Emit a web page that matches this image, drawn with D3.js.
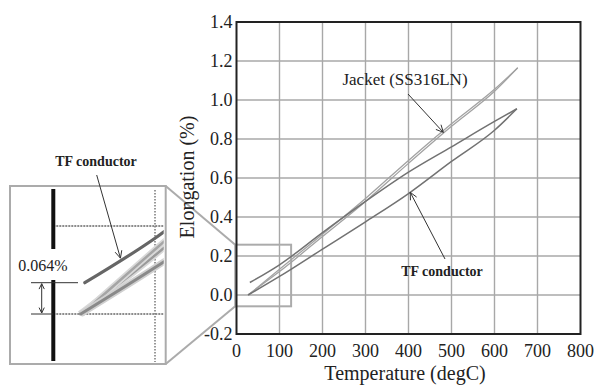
<!DOCTYPE html>
<html>
<head>
<meta charset="utf-8">
<script src="https://cdn.jsdelivr.net/npm/d3@7"></script>
<style>
  body { margin: 0; background: #fff; }
</style>
</head>
<body>
<svg id="chart" width="596" height="386"></svg>
<script>
// temperature (degC) and elongation (%)
const jacketHeatT = [26, 100, 200, 300, 400, 500, 600, 654];
const jacketHeatE = [0.0, 0.12, 0.30, 0.48, 0.675, 0.865, 1.045, 1.165];
const jacketCoolT = [654, 600, 500, 400, 300, 200, 100, 28];
const jacketCoolE = [1.165, 1.055, 0.878, 0.69, 0.495, 0.312, 0.132, 0.0];
const tfHeatT = [27, 100, 200, 300, 400, 500, 600, 652];
const tfHeatE = [0.0, 0.095, 0.235, 0.375, 0.52, 0.685, 0.845, 0.955];
const tfCoolT = [652, 600, 500, 400, 300, 200, 100, 31];
const tfCoolE = [0.955, 0.89, 0.76, 0.63, 0.48, 0.32, 0.155, 0.064];

const xTicks = [0, 100, 200, 300, 400, 500, 600, 700, 800];
const yTicks = [-0.2, 0.0, 0.2, 0.4, 0.6, 0.8, 1.0, 1.2, 1.4];
const offsetLabel = '0.064%';
const offsetValue = 0.064;

const serif = '"Liberation Serif", "DejaVu Serif", "Times New Roman", serif';
const svg = d3.select('#chart')
  .attr('font-family', serif)
  .style('font-family', serif);
const x = d3.scaleLinear().domain([0, 800]).range([236.5, 580.5]);
const y = d3.scaleLinear().domain([-0.2, 1.4]).range([334, 22]);

const toPts = (ts, es) => ts.map((t, i) => [t, es[i]]);
const series = [
  { pts: toPts(jacketHeatT, jacketHeatE), color: '#a2a2a2', w: 1.3 },
  { pts: toPts(jacketCoolT, jacketCoolE), color: '#a2a2a2', w: 1.3 },
  { pts: toPts(tfHeatT, tfHeatE), color: '#727272', w: 1.5 },
  { pts: toPts(tfCoolT, tfCoolE), color: '#727272', w: 1.5 }
];

// value of a series at temperature t (for arrow tips)
const valueAt = (pts, t) => {
  const s = pts.slice().sort((a, b) => a[0] - b[0]);
  for (let i = 1; i < s.length; i++) {
    if (t <= s[i][0]) {
      const f = (t - s[i - 1][0]) / (s[i][0] - s[i - 1][0]);
      return s[i - 1][1] + f * (s[i][1] - s[i - 1][1]);
    }
  }
  return s[s.length - 1][1];
};

const arrow = (g, x1, y1, x2, y2, head, both) => {
  g.append('line')
    .attr('x1', x1).attr('y1', y1).attr('x2', x2).attr('y2', y2)
    .attr('stroke', '#333').attr('stroke-width', 1);
  const tips = both ? [[x2, y2, x1, y1], [x1, y1, x2, y2]] : [[x2, y2, x1, y1]];
  tips.forEach(([tx, ty, fx, fy]) => {
    const a = Math.atan2(ty - fy, tx - fx);
    const p = s => [tx - head * Math.cos(a + s), ty - head * Math.sin(a + s)];
    const [l, r] = [p(0.45), p(-0.45)];
    g.append('path')
      .attr('d', `M${l[0]},${l[1]} L${tx},${ty} L${r[0]},${r[1]}`)
      .attr('fill', 'none').attr('stroke', '#333').attr('stroke-width', 1);
  });
};

const label = (g, tx, ty, str, size, weight) =>
  g.append('text').attr('x', tx).attr('y', ty)
    .attr('text-anchor', 'middle').attr('font-size', size)
    .attr('font-weight', weight || 'normal')
    .attr('font-family', serif).attr('fill', '#222')
    .text(str);

// grid
const grid = svg.append('g').attr('stroke', '#a8a8a8').attr('stroke-width', 1.4);
grid.selectAll('.gx').data(xTicks.slice(1, -1)).join('line')
  .attr('x1', d => x(d)).attr('x2', d => x(d))
  .attr('y1', y(1.4)).attr('y2', y(-0.2));
grid.selectAll('.gy').data(yTicks.slice(1, -1)).join('line')
  .attr('x1', x(0)).attr('x2', x(800))
  .attr('y1', d => y(d)).attr('y2', d => y(d));

// zoom box in main plot
const boxT = [-3, 127], boxE = [-0.058, 0.258];
const inset = { x: 10, y: 186, w: 155.7, h: 178 };
const zoomColor = '#ababab';
svg.append('rect')
  .attr('x', x(boxT[0])).attr('y', y(boxE[1]))
  .attr('width', x(boxT[1]) - x(boxT[0])).attr('height', y(boxE[0]) - y(boxE[1]))
  .attr('fill', 'none').attr('stroke', zoomColor).attr('stroke-width', 2);
svg.append('line')
  .attr('x1', inset.x + inset.w).attr('y1', inset.y)
  .attr('x2', x(boxT[0])).attr('y2', y(boxE[1]))
  .attr('stroke', zoomColor).attr('stroke-width', 2);
svg.append('line')
  .attr('x1', inset.x + inset.w).attr('y1', inset.y + inset.h)
  .attr('x2', x(boxT[0])).attr('y2', y(boxE[0]))
  .attr('stroke', zoomColor).attr('stroke-width', 2);

// curves
const line = d3.line().x(d => x(d[0])).y(d => y(d[1])).curve(d3.curveMonotoneX);
svg.append('g').selectAll('path').data(series).join('path')
  .attr('d', d => line(d.pts.slice().sort((a, b) => a[0] - b[0])))
  .attr('fill', 'none')
  .attr('stroke', d => d.color)
  .attr('stroke-width', d => d.w);

// frame
svg.append('rect')
  .attr('x', x(0)).attr('y', y(1.4))
  .attr('width', x(800) - x(0)).attr('height', y(-0.2) - y(1.4))
  .attr('fill', 'none').attr('stroke', '#222').attr('stroke-width', 2);

// tick labels
svg.append('g').selectAll('text').data(yTicks).join('text')
  .attr('x', x(0) - 4).attr('y', d => y(d)).attr('dy', '0.35em')
  .attr('text-anchor', 'end').attr('font-size', 18)
  .attr('font-family', serif).attr('fill', '#222')
  .text(d => d.toFixed(1));
svg.append('g').selectAll('text').data(xTicks).join('text')
  .attr('x', d => x(d)).attr('y', 357)
  .attr('text-anchor', 'middle').attr('font-size', 18)
  .attr('font-family', serif).attr('fill', '#222')
  .text(d => d);

// axis titles
label(svg, 405, 380, 'Temperature (degC)', 20);
label(svg, 0, 0, 'Elongation (%)', 20)
  .attr('transform', 'translate(194,177) rotate(-90)');

// annotations in main plot
const ann = svg.append('g');
label(ann, 405, 85, 'Jacket (SS316LN)', 17);
arrow(ann, 408, 94, x(481), y(valueAt(series[0].pts, 481)) - 1, 8);
label(ann, 442, 276, 'TF conductor', 14, 'bold');
arrow(ann, 445, 259, x(404), y(valueAt(series[2].pts, 404)), 8);

// inset (magnified view of the start of the curves)
const ix = d3.scaleLinear().domain([0, 100]).range([53.3, 155]);
const iy = d3.scaleLinear().domain([0, offsetValue]).range([314, 282.7]);
const insetRefE = 0.18;

svg.append('clipPath').attr('id', 'insetClip')
  .append('rect')
  .attr('x', inset.x + 1).attr('y', inset.y + 1)
  .attr('width', inset.w - 3).attr('height', inset.h - 2);

const ig = svg.append('g');
ig.append('rect')
  .attr('x', inset.x).attr('y', inset.y).attr('width', inset.w).attr('height', inset.h)
  .attr('fill', '#fff').attr('stroke', zoomColor).attr('stroke-width', 2);

const ic = ig.append('g').attr('clip-path', 'url(#insetClip)');
// reference lines
ic.append('line')
  .attr('x1', ix(0)).attr('x2', inset.x + inset.w)
  .attr('y1', iy(insetRefE)).attr('y2', iy(insetRefE))
  .attr('stroke', '#8c8c8c').attr('stroke-width', 2).attr('stroke-dasharray', '2,1');
ic.append('line')
  .attr('x1', ix(0)).attr('x2', inset.x + inset.w)
  .attr('y1', iy(0)).attr('y2', iy(0))
  .attr('stroke', '#8c8c8c').attr('stroke-width', 2).attr('stroke-dasharray', '2,1');
ic.append('line')
  .attr('x1', ix(100)).attr('x2', ix(100))
  .attr('y1', inset.y + 4).attr('y2', inset.y + inset.h - 2)
  .attr('stroke', '#777').attr('stroke-width', 1.5).attr('stroke-dasharray', '1.5,1.5');

const iline = d3.line().x(d => ix(d[0])).y(d => iy(d[1])).curve(d3.curveMonotoneX);
const insetStyles = [
  { halo: '#d8d8d8', color: '#9a9a9a', w: 2.5 },
  { halo: '#d8d8d8', color: '#a5a5a5', w: 2.5 },
  { halo: '#d0d0d0', color: '#8a8a8a', w: 3 },
  { halo: null, color: '#666', w: 3.2 }
];
series.forEach((s, i) => {
  const d = iline(s.pts.slice().sort((a, b) => a[0] - b[0]));
  const st = insetStyles[i];
  if (st.halo) {
    ic.append('path').attr('d', d).attr('fill', 'none')
      .attr('stroke', st.halo).attr('stroke-width', st.w + 3.5);
  }
  ic.append('path').attr('d', d).attr('fill', 'none')
    .attr('stroke', st.color).attr('stroke-width', st.w).attr('stroke-linecap', 'round');
});

// y-axis bar (broken around the label)
ig.append('line')
  .attr('x1', ix(0)).attr('x2', ix(0)).attr('y1', 189).attr('y2', 249)
  .attr('stroke', '#111').attr('stroke-width', 4);
ig.append('line')
  .attr('x1', ix(0)).attr('x2', ix(0)).attr('y1', 280).attr('y2', 361)
  .attr('stroke', '#111').attr('stroke-width', 4);

// offset measurement
ig.append('line')
  .attr('x1', 31).attr('x2', 78).attr('y1', iy(offsetValue)).attr('y2', iy(offsetValue))
  .attr('stroke', '#333').attr('stroke-width', 1);
ig.append('line')
  .attr('x1', 31).attr('x2', ix(0)).attr('y1', iy(0)).attr('y2', iy(0))
  .attr('stroke', '#333').attr('stroke-width', 1);
arrow(ig, 41.7, iy(offsetValue) + 1, 41.7, iy(0) - 1, 6, true);
label(ig, 43, 271, offsetLabel, 16);

label(ig, 96, 166, 'TF conductor', 14, 'bold');
arrow(ig, 96.7, 175, ix(66), iy(valueAt(series[3].pts, 66)) - 2, 8);
</script>
</body>
</html>
